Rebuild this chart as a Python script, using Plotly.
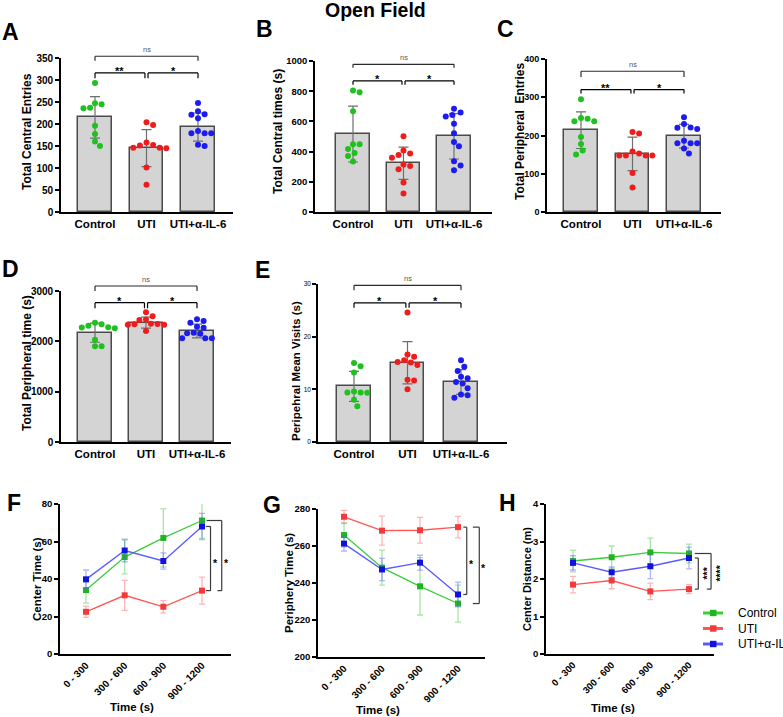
import plotly.graph_objects as go

# ---------------- data ----------------
groups = ["Control", "UTI", "UTI+α-IL-6"]
bins = ["0 - 300", "300 - 600", "600 - 900", "900 - 1200"]

# A  Total Central Entries
A_control = [293, 245, 247, 236, 237, 196, 177, 160, 150]
A_uti = [198, 204, 146, 151, 152, 158, 146, 101, 62, 145]
A_il6 = [248, 229, 221, 222, 213, 184, 179, 179, 179, 150, 153]
A_mean = [215, 145, 193]
A_sd = [47, 42, 32]

# B  Total Central times (s)
B_control = [793, 804, 668, 448, 448, 418, 391, 371, 334]
B_uti = [501, 407, 378, 387, 360, 314, 305, 283, 196, 123]
B_il6 = [684, 659, 642, 633, 585, 521, 464, 435, 336, 308, 277]
B_mean = [516, 323, 501]
B_sd = [185, 107, 150]

# C  Total Peripheral Entries
C_control = [295, 246, 244, 237, 237, 196, 178, 161, 150]
C_uti = [205, 209, 158, 148, 153, 148, 148, 148, 102, 64]
C_il6 = [248, 230, 221, 220, 217, 186, 180, 180, 180, 166, 153]
C_mean = [214, 152, 198]
C_sd = [48, 44, 31]

# D  Total Peripheral time (s)
D_control = [2310, 2260, 2275, 2370, 2280, 2340, 2030, 1900, 1900]
D_uti = [2580, 2500, 2425, 2435, 2340, 2330, 2345, 2350, 2330, 2205]
D_il6 = [2437, 2404, 2371, 2272, 2290, 2160, 2170, 2150, 2060, 2060, 2060]
D_mean = [2172, 2371, 2205]
D_sd = [190, 110, 136]

# E  Peripheral Mean Visits (s)
E_control = [14.4, 15.0, 13.2, 9.4, 9.4, 9.35, 9.6, 8.0, 6.8]
E_uti = [24.6, 16.2, 16.6, 15.1, 15.5, 15.2, 14.6, 11.8, 11.7, 10.0]
E_il6 = [15.5, 14.3, 13.5, 12.4, 12.1, 11.4, 11.1, 10.2, 9.0, 8.9, 8.4]
E_mean = [10.55, 15.05, 11.4]
E_sd = [2.85, 4.0, 2.35]

# F  Center Time (s)
F_control = [34.1, 51.7, 61.9, 71.2]
F_control_err = [7.0, 9.0, 15.5, 9.5]
F_uti = [22.5, 31.3, 25.2, 33.8]
F_uti_err = [3.0, 8.0, 3.3, 7.2]
F_il6 = [39.8, 55.2, 49.6, 68.0]
F_il6_err = [5.0, 6.0, 4.3, 7.0]

# G  Periphery Time (s)
G_control = [265.9, 248.3, 238.2, 228.9]
G_control_err = [6.5, 9.5, 15.5, 10.0]
G_uti = [275.8, 268.3, 268.5, 270.2]
G_uti_err = [3.5, 7.8, 7.0, 5.8]
G_il6 = [261.3, 247.3, 251.0, 233.8]
G_il6_err = [4.0, 6.0, 4.0, 6.7]

# H  Center Distance (m)
H_control = [2.48, 2.58, 2.71, 2.68]
H_control_err = [0.29, 0.30, 0.38, 0.25]
H_uti = [1.85, 1.96, 1.67, 1.73]
H_uti_err = [0.22, 0.22, 0.22, 0.12]
H_il6 = [2.43, 2.18, 2.34, 2.56]
H_il6_err = [0.19, 0.14, 0.33, 0.29]

# ---------------- styling / layout ----------------
W, H = 783, 717
FONT = "Liberation Sans, Arial, Helvetica, sans-serif"
DOT = ["#1fc01f", "#f01c1c", "#1c1cee"]
LINE = ["#3ccc3c", "#ff5555", "#5a5aff"]
MARK = ["#20b420", "#f23a3a", "#1212dd"]
ERR = ["rgba(60,200,60,0.45)", "rgba(255,90,90,0.45)", "rgba(90,90,255,0.45)"]

bar_panels = [
    dict(letter="A", pos=(10, 32), box=(61, 233, 58, 212), cat=(95, 51.5), yr=(0, 350), dtick=50,
         vals=(A_control, A_uti, A_il6), mean=A_mean, sd=A_sd,
         ytitle="Total Central Entries", yt=(27, 132), tsize=10,
         brk=(354, 344, 316, 304), stars=("**", "*")),
    dict(letter="B", pos=(264, 28.5), box=(315, 492, 61, 212), cat=(353, 50.5), yr=(0, 1000), dtick=200,
         vals=(B_control, B_uti, B_il6), mean=B_mean, sd=B_sd,
         ytitle="Total Central times (s)", yt=(278, 132), tsize=9.5,
         brk=(978, 956, 868, 842), stars=("*", "*")),
    dict(letter="C", pos=(505, 28.5), box=(547, 721, 59, 212), cat=(581, 51.5), yr=(0, 400), dtick=100,
         vals=(C_control, C_uti, C_il6), mean=C_mean, sd=C_sd,
         ytitle="Total Peripheral  Entries", yt=(520, 132), tsize=9,
         brk=(368, 353, 320, 310), stars=("**", "*")),
    dict(letter="D", pos=(10, 269), box=(61, 231, 291, 442), cat=(95, 51), yr=(0, 3000), dtick=1000,
         vals=(D_control, D_uti, D_il6), mean=D_mean, sd=D_sd,
         ytitle="Total Peripheral time (s)", yt=(27, 363), tsize=10,
         brk=(3099, 3000, 2768, 2656), stars=("*", "*")),
    dict(letter="E", pos=(262, 270), box=(318, 507, 284, 442), cat=(354, 53.5), yr=(0, 30), dtick=10,
         vals=(E_control, E_uti, E_il6), mean=E_mean, sd=E_sd,
         ytitle="Peripehral Mean Visits (s)", yt=(296, 371), tsize=6.5,
         brk=(29.75, 28.8, 26.4, 25.5), stars=("*", "*")),
]

line_panels = [
    dict(letter="F", pos=(14, 503), box=(60, 231, 504, 654), cat=(86, 38.67), yr=(0, 80), dtick=20,
         series=((F_control, F_control_err), (F_uti, F_uti_err), (F_il6, F_il6_err)),
         ytitle="Center Time (s)", yt=(37, 579), ytsize=11.5, tsize=9.5, xtsize=10,
         xt=(132, 707), xtitle_size=11.5,
         brackets=[(3.10, 3.10, 3.22, F_il6[-1], F_uti[-1]),
                   (3.12, 3.40, 3.51, F_control[-1], F_uti[-1])],
         labels=[("*", 3.34, 50.1, 0), ("*", 3.64, 50.1, 0)]),
    dict(letter="G", pos=(272, 505), box=(318, 485, 509, 657), cat=(344, 38), yr=(200, 280), dtick=20,
         series=((G_control, G_control_err), (G_uti, G_uti_err), (G_il6, G_il6_err)),
         ytitle="Periphery Time (s)", yt=(289, 583), ytsize=11.5, tsize=9.5, xtsize=10,
         xt=(378, 710), xtitle_size=11.5,
         brackets=[(3.14, 3.14, 3.23, G_uti[-1], G_il6[-1]),
                   (3.39, 3.39, 3.56, G_uti[-1], G_control[-1])],
         labels=[("*", 3.36, 252.0, 0), ("*", 3.67, 249.7, 0)]),
    dict(letter="H", pos=(507, 503), box=(546, 714, 504, 654), cat=(573, 38.67), yr=(0, 4), dtick=1,
         series=((H_control, H_control_err), (H_uti, H_uti_err), (H_il6, H_il6_err)),
         ytitle="Center Distance (m)", yt=(527, 579), ytsize=11, tsize=9.5, xtsize=9.5,
         xt=(613, 708), xtitle_size=11.5,
         brackets=[(3.15, 3.15, 3.24, H_il6[-1], H_uti[-1]),
                   (3.15, 3.46, 3.57, H_control[-1], H_uti[-1])],
         labels=[("***", 3.39, 2.15, -90), ("****", 3.73, 2.15, -90)]),
]


def names(i):
    s = "" if i == 1 else str(i)
    return "xaxis" + s, "yaxis" + s, "x" + s, "y" + s


def swarm(vals, ppu_y, ppu_x, d=6.6):
    """simple beeswarm: returns x offsets in category units"""
    order = sorted(range(len(vals)), key=lambda k: -vals[k])
    placed, offs = [], [0.0] * len(vals)
    cands = [0.0]
    for s in range(1, 40):
        cands += [s * d / 4, -s * d / 4]
    for k in order:
        y = vals[k] * ppu_y
        for c in cands:
            if all((c - px) ** 2 + (y - py) ** 2 >= d * d * 0.98 for px, py in placed):
                break
        placed.append((c, y))
        offs[k] = c / ppu_x
    return offs


fig = go.Figure()
shapes, annos, layout_axes = [], [], {}


def axis_setup(i, p, tickvals, ticktext, tickangle, xtick_size):
    xa, ya, xr_, yr_ = names(i)
    l, r, t, b = p["box"]
    c0, step = p["cat"]
    xrange = [(l - c0) / step, (r - c0) / step]
    p["xrange"] = xrange
    layout_axes[xa] = dict(domain=[l / W, r / W], range=xrange, anchor=yr_, showline=True,
                           linecolor="black", linewidth=1.6, ticks="", showgrid=False,
                           zeroline=False, tickvals=tickvals, ticktext=ticktext,
                           tickangle=tickangle, fixedrange=True,
                           tickfont=dict(family=FONT, size=xtick_size, color="black", weight="bold"))
    layout_axes[ya] = dict(domain=[1 - b / H, 1 - t / H], range=list(p["yr"]), anchor=xr_,
                           showline=True, linecolor="black", linewidth=1.6, ticks="outside",
                           ticklen=4, tickwidth=1.5, tickcolor="black", dtick=p["dtick"],
                           showgrid=False, zeroline=False, fixedrange=True,
                           tickfont=dict(family=FONT, size=p["tsize"], color="black",
                                         weight="normal" if p["letter"] == "E" else "bold"))
    return xr_, yr_


def fx(p, v):
    return (v - p["xrange"][0]) / (p["xrange"][1] - p["xrange"][0])


def fy(p, v):
    return (v - p["yr"][0]) / (p["yr"][1] - p["yr"][0])


def seg(p, xr_, yr_, x0, y0, x1, y1, color="#2a2a2a"):
    shapes.append(dict(type="line", xref=xr_ + " domain", yref=yr_ + " domain",
                       x0=fx(p, x0), y0=fy(p, y0), x1=fx(p, x1), y1=fy(p, y1),
                       line=dict(color=color, width=1.2)))


def letter(p):
    annos.append(dict(text=p["letter"], x=p["pos"][0] / W, y=1 - p["pos"][1] / H, xref="paper",
                      yref="paper", showarrow=False, xanchor="center", yanchor="middle",
                      font=dict(family=FONT, size=23, color="black", weight="bold")))


def ytitle(p, size):
    annos.append(dict(text=p["ytitle"], x=p["yt"][0] / W, y=1 - p["yt"][1] / H, xref="paper",
                      yref="paper", showarrow=False, textangle=-90, xanchor="center",
                      yanchor="middle",
                      font=dict(family=FONT, size=size, color="black", weight="bold")))


idx = 1
for p in bar_panels:
    xr_, yr_ = axis_setup(idx, p, [0, 1, 2], groups, 0, 11.5)
    l, r, t, b = p["box"]
    ppu_y = (b - t) / (p["yr"][1] - p["yr"][0])
    step = p["cat"][1]
    fig.add_trace(go.Bar(x=[0, 1, 2], y=p["mean"], width=33.5 / step, xaxis=xr_, yaxis=yr_,
                         marker=dict(color="#d4d4d4", line=dict(color="#4a4a4a", width=1.5)),
                         error_y=dict(type="data", array=p["sd"], color="#6e6e6e",
                                      thickness=1.2, width=5),
                         hoverinfo="skip"))
    for g, vals in enumerate(p["vals"]):
        offs = swarm(vals, ppu_y, step)
        fig.add_trace(go.Scatter(x=[g + o for o in offs], y=vals, mode="markers",
                                 xaxis=xr_, yaxis=yr_, cliponaxis=False,
                                 marker=dict(size=6, color=DOT[g]), hoverinfo="skip"))
    ns_top, ns_drop, pr_top, pr_drop = p["brk"]
    # ns bracket
    seg(p, xr_, yr_, 0, ns_drop, 0, ns_top)
    seg(p, xr_, yr_, 0, ns_top, 2, ns_top)
    seg(p, xr_, yr_, 2, ns_top, 2, ns_drop)
    # pair brackets
    for a, c in ((0, 0.97), (1.03, 2)):
        seg(p, xr_, yr_, a, pr_drop, a, pr_top, "black")
        seg(p, xr_, yr_, a, pr_top, c, pr_top, "black")
        seg(p, xr_, yr_, c, pr_top, c, pr_drop, "black")
    annos.append(dict(text="ns", xref=xr_ + " domain", yref=yr_ + " domain", x=fx(p, 1),
                      y=fy(p, ns_top), yshift=7, showarrow=False, xanchor="center",
                      yanchor="middle", font=dict(family=FONT, size=7.5, color="#555555")))
    for s, xm in zip(p["stars"], (0.485, 1.515)):
        annos.append(dict(text=s, xref=xr_ + " domain", yref=yr_ + " domain", x=fx(p, xm),
                          y=fy(p, pr_top), yshift=2, showarrow=False, xanchor="center",
                          yanchor="middle",
                          font=dict(family=FONT, size=11, color="black", weight="bold")))
    letter(p)
    ytitle(p, 12 if p["letter"] != "E" else 11.5)
    idx += 1

for p in line_panels:
    xr_, yr_ = axis_setup(idx, p, [0, 1, 2, 3], bins, -45, p["xtsize"])
    for g, (vals, err) in enumerate(p["series"]):
        fig.add_trace(go.Scatter(x=[0, 1, 2, 3], y=vals, mode="lines+markers",
                                 xaxis=xr_, yaxis=yr_, cliponaxis=False,
                                 line=dict(color=LINE[g], width=1.3),
                                 marker=dict(symbol="square", size=6, color=MARK[g]),
                                 error_y=dict(type="data", array=err, color=ERR[g],
                                              thickness=1.3, width=3),
                                 hoverinfo="skip"))
    for (xa0, xb0, xv, ytop, ybot) in p["brackets"]:
        seg(p, xr_, yr_, xa0, ytop, xv, ytop, "#3a3a3a")
        seg(p, xr_, yr_, xv, ytop, xv, ybot, "#3a3a3a")
        seg(p, xr_, yr_, xb0, ybot, xv, ybot, "#3a3a3a")
    for (txt, lx, ly, ang) in p["labels"]:
        a = dict(text=txt, xref=xr_ + " domain", yref=yr_ + " domain", x=fx(p, lx), y=fy(p, ly),
                 showarrow=False, xanchor="center", yanchor="middle", textangle=ang,
                 font=dict(family=FONT, size=10.5, color="black", weight="bold"))
        if ang == 0:
            a["yshift"] = -3
        else:
            a["xshift"] = 3
        annos.append(a)
    letter(p)
    ytitle(p, p["ytsize"])
    annos.append(dict(text="Time (s)", x=p["xt"][0] / W, y=1 - p["xt"][1] / H, xref="paper",
                      yref="paper", showarrow=False, xanchor="center", yanchor="middle",
                      font=dict(family=FONT, size=p["xtitle_size"], color="black", weight="bold")))
    idx += 1

# legend (drawn manually, GraphPad style)
for g, (name, ly) in enumerate(zip(groups, (613, 628.5, 644))):
    shapes.append(dict(type="line", xref="paper", yref="paper", x0=703 / W, x1=723 / W,
                       y0=1 - ly / H, y1=1 - ly / H, line=dict(color=LINE[g], width=3)))
    shapes.append(dict(type="rect", xref="paper", yref="paper", x0=710 / W, x1=716.5 / W,
                       y0=1 - (ly + 3.2) / H, y1=1 - (ly - 3.2) / H,
                       fillcolor=MARK[g], line=dict(width=0)))
    annos.append(dict(text=name, x=736 / W, y=1 - ly / H, xref="paper", yref="paper",
                      showarrow=False, xanchor="left", yanchor="middle",
                      font=dict(family=FONT, size=12, color="black")))

# figure title
annos.append(dict(text="Open Field", x=375 / W, y=1 - 10.5 / H, xref="paper", yref="paper",
                  showarrow=False, xanchor="center", yanchor="middle",
                  font=dict(family=FONT, size=19.5, color="black", weight="bold")))

fig.update_layout(width=W, height=H, margin=dict(l=0, r=0, t=0, b=0, autoexpand=False),
                  paper_bgcolor="white", plot_bgcolor="white", showlegend=False,
                  shapes=shapes, annotations=annos, bargap=0,
                  font=dict(family=FONT, color="black"), **layout_axes)

fig.write_html("out.html", config={"displayModeBar": False},
               post_script="document.body.style.margin='0';document.body.style.overflow='hidden';")
